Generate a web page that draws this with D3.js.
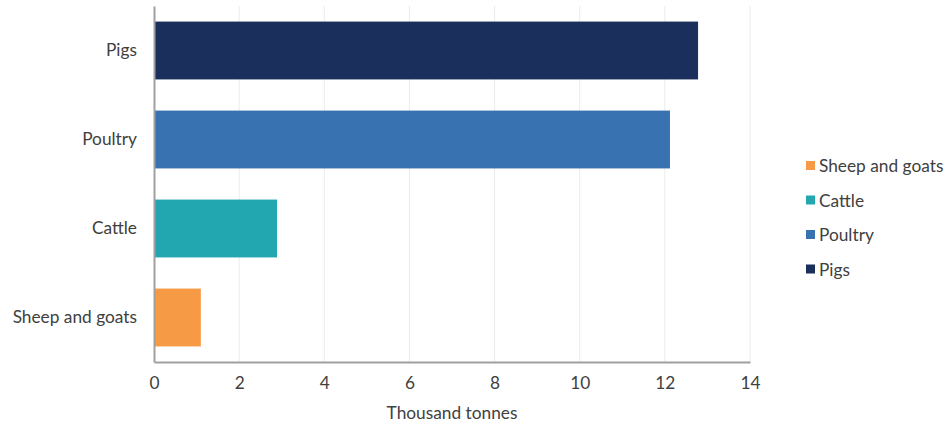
<!DOCTYPE html>
<html>
<head>
<meta charset="utf-8">
<script src="https://cdn.jsdelivr.net/npm/d3@7"></script>
<style>
  body { margin: 0; background: #fff; }
  text { font-family: Lato, "Open Sans", sans-serif; fill: #404040; }
</style>
</head>
<body>
<div id="chart"></div>
<script>
// data
var categories = ["Pigs", "Poultry", "Cattle", "Sheep and goats"];
var values = [12.78, 12.12, 2.89, 1.10];
var colors = ["#1b2f5c", "#3872b0", "#22a7b0", "#f79a46"];
var legendOrder = ["Sheep and goats", "Cattle", "Poultry", "Pigs"];
var xTicks = [0, 2, 4, 6, 8, 10, 12, 14];

var width = 948, height = 425;
var plotLeft = 154, plotRight = 750, plotTop = 6, plotBottom = 362;
var fontSize = "17.3px";

var svg = d3.select("#chart").append("svg")
  .attr("width", width)
  .attr("height", height);

var x = d3.scaleLinear().domain([0, 14]).range([plotLeft, plotRight]);
var y = d3.scaleBand().domain(categories).range([plotTop, plotBottom]).paddingInner(0.35).paddingOuter(0.175);
var color = d3.scaleOrdinal().domain(categories).range(colors);

// gridlines
svg.append("g")
  .selectAll("line")
  .data(xTicks.slice(1))
  .enter().append("line")
  .attr("x1", function (d) { return x(d); })
  .attr("x2", function (d) { return x(d); })
  .attr("y1", plotTop)
  .attr("y2", plotBottom)
  .attr("stroke", "#ebebeb")
  .attr("stroke-width", 1);

// bars
svg.append("g")
  .selectAll("rect")
  .data(categories)
  .enter().append("rect")
  .attr("x", x(0))
  .attr("y", function (d) { return y(d); })
  .attr("width", function (d, i) { return x(values[i]) - x(0); })
  .attr("height", y.bandwidth())
  .attr("fill", function (d) { return color(d); });

// axes
var xAxis = svg.append("g")
  .attr("transform", "translate(0," + plotBottom + ")")
  .call(d3.axisBottom(x).tickValues(xTicks).tickSize(0).tickPadding(15));
xAxis.select(".domain").attr("stroke", "#a0a0a0").attr("stroke-width", 2);
xAxis.selectAll("text").style("font-size", fontSize).attr("fill", "#404040")
  .style("font-family", "Lato, 'Open Sans', sans-serif");

var yAxis = svg.append("g")
  .attr("transform", "translate(" + plotLeft + ",0)")
  .call(d3.axisLeft(y).tickSize(0).tickPadding(17));
yAxis.select(".domain").attr("stroke", "#a0a0a0").attr("stroke-width", 2);
yAxis.selectAll("text").style("font-size", fontSize).attr("fill", "#404040")
  .style("font-family", "Lato, 'Open Sans', sans-serif");

// axis title
svg.append("text")
  .attr("x", (plotLeft + plotRight) / 2)
  .attr("y", 419)
  .attr("text-anchor", "middle")
  .style("font-size", fontSize)
  .text("Thousand tonnes");

// legend
var legend = svg.append("g").attr("transform", "translate(806,166)");
var item = legend.selectAll("g")
  .data(legendOrder)
  .enter().append("g")
  .attr("transform", function (d, i) { return "translate(0," + (i * 34.5) + ")"; });
item.append("rect")
  .attr("x", 0).attr("y", -5)
  .attr("width", 9).attr("height", 9)
  .attr("fill", function (d) { return color(d); });
item.append("text")
  .attr("x", 13)
  .attr("y", 0)
  .attr("dy", "0.35em")
  .style("font-size", fontSize)
  .text(function (d) { return d; });
</script>
</body>
</html>
